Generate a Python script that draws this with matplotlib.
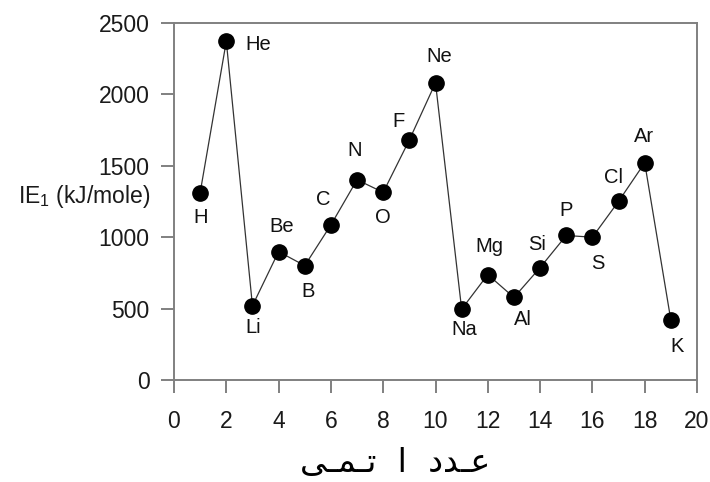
import matplotlib
matplotlib.use("Agg")
import matplotlib.pyplot as plt

# ------------------------ Data ------------------------
atomic_numbers = list(range(1, 20))
ie1_values = [1312, 2372, 520, 899, 801, 1086, 1402, 1314, 1681, 2081,
              496, 738, 578, 787, 1012, 1000, 1251, 1521, 419]
symbols = ["H", "He", "Li", "Be", "B", "C", "N", "O", "F", "Ne",
           "Na", "Mg", "Al", "Si", "P", "S", "Cl", "Ar", "K"]

x_ticks = list(range(0, 21, 2))
y_ticks = [0, 500, 1000, 1500, 2000, 2500]

# label offsets (pixels, right / down) from each point
label_offsets_px = [(0, 25), (32, 3), (1, 22), (3, -25), (3, 26), (-8, -25),
                    (-2, -29), (0, 25), (-11, -18), (4, -26), (3, 20), (2, -28),
                    (9, 22), (-3, -23), (0, -25), (5, 26), (-5, -24), (-1, -26),
                    (6, 26)]

# Persian "atomic number" written in visual (left-to-right) presentation forms,
# stretched with tatweel like the original lettering
xlabel_visual = "\uFEF0\u0640\uFEE4\u0640\uFE97  \uFE8D  \uFEA9\uFEAA\u0640\uFECB"

plt.rcParams['font.family'] = ['Liberation Sans', 'DejaVu Sans']
plt.rcParams['mathtext.fontset'] = 'custom'
plt.rcParams['mathtext.rm'] = 'Liberation Sans'

DPI = 100
fig = plt.figure(figsize=(7.1, 4.82), dpi=DPI)
ax = fig.add_axes([174 / 710, 1 - 380 / 482, (697 - 174) / 710, (380 - 23) / 482])

ax.plot(atomic_numbers, ie1_values, color='#333333', linewidth=0.9, zorder=2)
ax.plot(atomic_numbers, ie1_values, linestyle='none', marker='o', markersize=11,
        color='black', zorder=3)

px2pt = 72 / DPI
for x, y, s, (dx, dy) in zip(atomic_numbers, ie1_values, symbols, label_offsets_px):
    ax.annotate(s, (x, y), xytext=(dx * px2pt, -dy * px2pt), textcoords='offset points',
                ha='center', va='center', fontsize=14.5, color='#111111')

ax.set_xlim(0, 20)
ax.set_ylim(0, 2500)
ax.set_xticks(x_ticks)
ax.set_yticks(y_ticks)

for sp in ax.spines.values():
    sp.set_color('#808080')
    sp.set_linewidth(1.4)

ax.tick_params(axis='both', direction='out', length=9.5, width=1.4, color='#808080',
               labelsize=16.5, labelcolor='#1a1a1a')
ax.tick_params(axis='y', pad=8)
ax.tick_params(axis='x', pad=12)

fig.text(150 / 710, 1 - 197 / 482, r"IE$_\mathregular{1}$ (kJ/mole)", ha='right', va='center',
         fontsize=16.5, color='#1a1a1a')

fig.text(395 / 710, 1 - 463 / 482, xlabel_visual, ha='center', va='center',
         fontsize=24, family='DejaVu Sans', color='black')

fig.savefig("out.png", dpi=DPI)
